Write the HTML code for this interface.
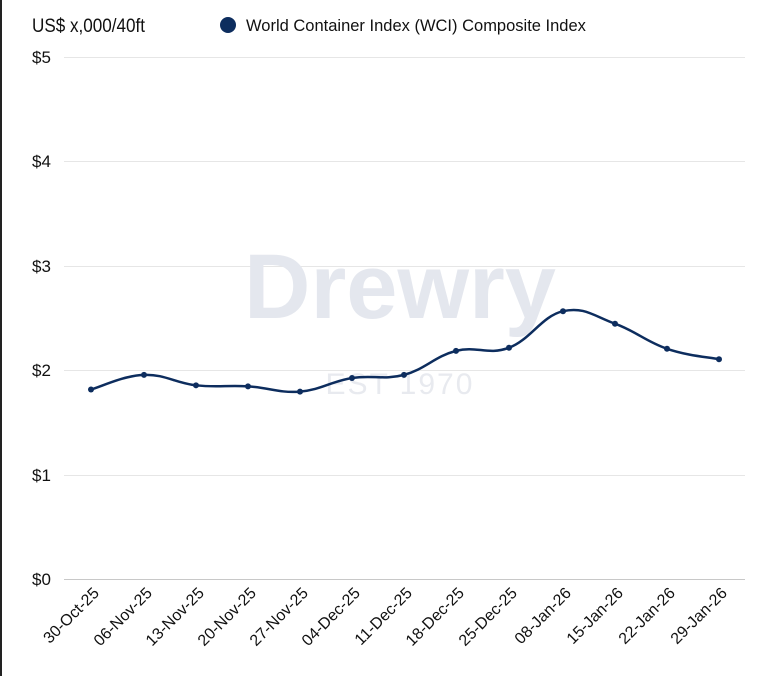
<!DOCTYPE html>
<html><head><style>
body{margin:0;background:#fff;}
svg{display:block;font-family:"Liberation Sans",sans-serif;}
</style></head><body>
<svg width="757" height="676" viewBox="0 0 757 676">
<rect x="0" y="0" width="2" height="676" fill="#222"/>
<text x="32" y="32" font-size="19" fill="#111" transform="translate(32 0) scale(0.9 1) translate(-32 0)">US$ x,000/40ft</text>
<circle cx="228" cy="25" r="8" fill="#0d2d5e"/>
<text x="246" y="31" font-size="16.5" fill="#111">World Container Index (WCI) Composite Index</text>
<g stroke="#e6e6e6" stroke-width="1">
<line x1="64" x2="745" y1="57.5" y2="57.5"/>
<line x1="64" x2="745" y1="161.5" y2="161.5"/>
<line x1="64" x2="745" y1="266.5" y2="266.5"/>
<line x1="64" x2="745" y1="370.5" y2="370.5"/>
<line x1="64" x2="745" y1="475.5" y2="475.5"/>
</g>
<line x1="64" x2="745" y1="579.5" y2="579.5" stroke="#c8c8c8"/>
<g font-size="17" fill="#111" text-anchor="start">
<text x="32" y="63">$5</text><text x="32" y="167">$4</text><text x="32" y="272">$3</text>
<text x="32" y="376">$2</text><text x="32" y="481">$1</text><text x="32" y="585">$0</text>
</g>
<text x="400" y="318" font-size="92" font-weight="bold" fill="#e4e7ee" text-anchor="middle">Drewry</text>
<text x="400" y="394" font-size="30" fill="#e8eaef" text-anchor="middle" letter-spacing="2">EST 1970</text>
<path id="ln" fill="none" stroke="#0d2d5e" stroke-width="2.5" d=""/>
<g id="pts" fill="#0d2d5e"></g>
<g id="lbl" font-size="16" fill="#111"></g>
</svg>
<script>
var xs=[91,144,196,248,300,352,404,456,509,563,615,667,719];
var vs=[1.82,1.96,1.86,1.85,1.80,1.93,1.96,2.19,2.22,2.57,2.45,2.21,2.11];
var labs=["30-Oct-25","06-Nov-25","13-Nov-25","20-Nov-25","27-Nov-25","04-Dec-25","11-Dec-25","18-Dec-25","25-Dec-25","08-Jan-26","15-Jan-26","22-Jan-26","29-Jan-26"];
var P=xs.map(function(x,i){return [x,579.5-vs[i]*104.4];});
var d="M"+P[0][0]+","+P[0][1];
for(var i=0;i<P.length-1;i++){var p0=P[i-1]||P[i],p1=P[i],p2=P[i+1],p3=P[i+2]||p2,t=0.2;
d+=" C"+(p1[0]+(p2[0]-p0[0])*t)+","+(p1[1]+(p2[1]-p0[1])*t)+" "+(p2[0]-(p3[0]-p1[0])*t)+","+(p2[1]-(p3[1]-p1[1])*t)+" "+p2[0]+","+p2[1];}
document.getElementById("ln").setAttribute("d",d);
var ns="http://www.w3.org/2000/svg",g=document.getElementById("pts"),L=document.getElementById("lbl");
P.forEach(function(p,i){var c=document.createElementNS(ns,"circle");c.setAttribute("cx",p[0]);c.setAttribute("cy",p[1]);c.setAttribute("r",3);g.appendChild(c);
var t=document.createElementNS(ns,"text");t.setAttribute("text-anchor","end");t.setAttribute("transform","translate("+(xs[i]+9)+",594) rotate(-45)");t.textContent=labs[i];L.appendChild(t);});
</script>
</body></html>
